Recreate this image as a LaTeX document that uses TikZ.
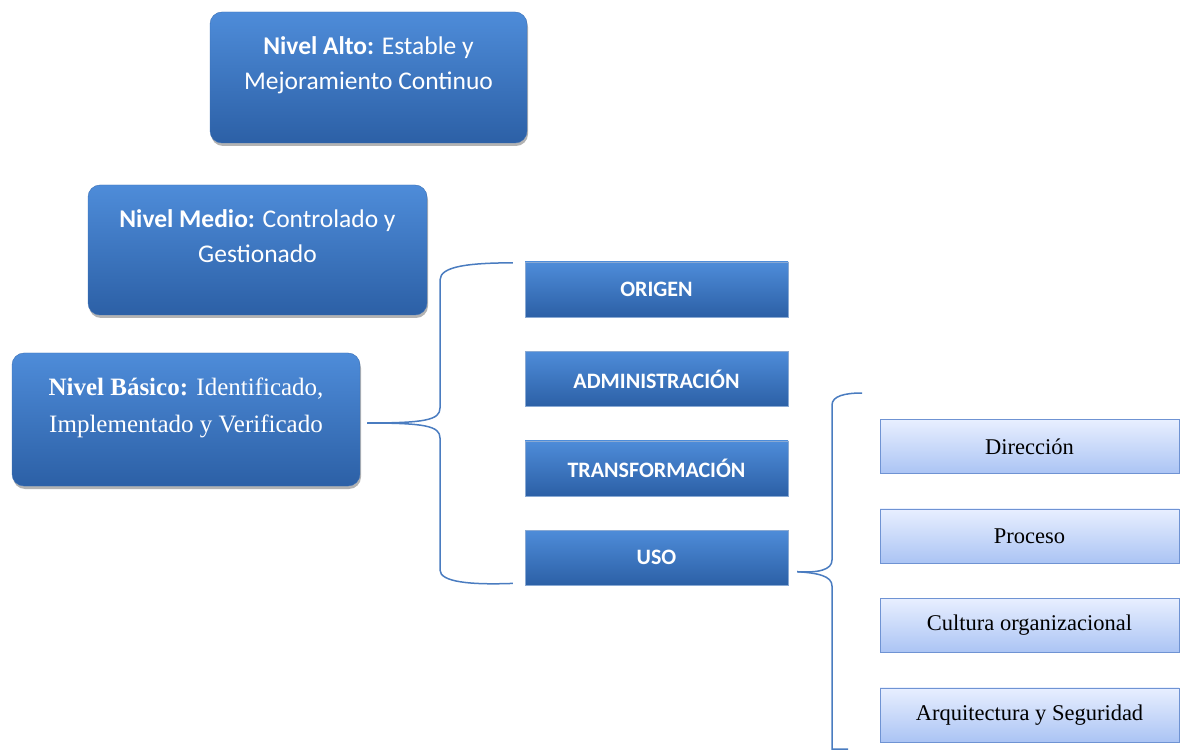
\documentclass[tikz,border=0pt]{standalone}
\usepackage{fontspec}
\setmainfont{Liberation Serif}
\newfontfamily\calibri{Carlito}
\usetikzlibrary{positioning,shadows,calc}

\definecolor{boxtop}{HTML}{4E8CD9}
\definecolor{boxbot}{HTML}{2C60A6}
\definecolor{boxline}{HTML}{3A6FB5}
\definecolor{subtop}{HTML}{E8EFFF}
\definecolor{subbot}{HTML}{ABC4F4}
\definecolor{subline}{HTML}{6F93D3}
\definecolor{braceline}{HTML}{4A7CC0}

\tikzset{
  nivel/.style={rounded corners=12pt, draw=boxline, top color=boxtop, bottom color=boxbot,
    text=white, align=center, drop shadow={shadow xshift=1pt, shadow yshift=-3pt, opacity=0.6},
    font=\calibri\fontsize{25.5}{35}\selectfont},
  fase/.style={draw=boxline!60!white, top color=boxtop, bottom color=boxbot, text=white,
    minimum width=263pt, minimum height=55pt, font=\calibri\bfseries\fontsize{22}{26}\selectfont},
  aspecto/.style={draw=subline, top color=subtop, bottom color=subbot, text=black,
    minimum width=299pt, minimum height=54pt, font=\fontsize{22.5}{26}\selectfont},
  llave/.style={draw=braceline, line width=1.5pt}
}

\begin{document}
\begin{tikzpicture}[x=1pt,y=-1pt]
  \useasboundingbox (0,0) rectangle (1181,751);

  % niveles
  \node[nivel, minimum width=317pt, minimum height=131pt] (alto) at (368.5,77.5)
    {\textbf{Nivel Alto:} Estable y\\Mejoramiento Continuo\\[-7pt]\mbox{}};
  \node[nivel, minimum width=339pt, minimum height=130pt] (medio) at (257.5,250)
    {\textbf{Nivel Medio:} Controlado y\\Gestionado\\[-7pt]\mbox{}};
  \node[nivel, minimum width=348pt, minimum height=133pt, font=\rmfamily\fontsize{25}{37}\selectfont] (basico) at (186,419.5)
    {\textbf{Nivel Básico:} Identificado,\\Implementado y Verificado\\[-9pt]\mbox{}};

  % fases
  \node[fase] (origen) at (656.5,289.5) {ORIGEN};
  \node[fase, below=34pt of origen] (admin) {ADMINISTRACIÓN};
  \node[fase, below=34pt of admin] (transf) {TRANSFORMACIÓN};
  \node[fase, below=34pt of transf] (uso) {USO};

  % aspectos
  \node[aspecto] (direccion) at (1029.5,446.5) {Dirección};
  \node[aspecto, below=35pt of direccion] (proceso) {Proceso};
  \node[aspecto, below=35pt of proceso] (cultura) {Cultura organizacional};
  \node[aspecto, below=35pt of cultura] (arqui) {Arquitectura y Seguridad};

  % llaves
  \coordinate (t1) at ($(basico.east)+(7,3.5)$);
  \draw[llave] (t1) .. controls (425,423) and (440,420) .. (440,408) -- (440,280)
    .. controls (440,266) and (470,263) .. ($(origen.north west)+(-12,1)$);
  \draw[llave] (t1) .. controls (425,423) and (440,426) .. (440,438) -- (440,570)
    .. controls (440,582) and (470,585) .. ($(uso.south west)+(-12,-2)$);

  \coordinate (t2) at ($(uso.east)+(9,14)$);
  \draw[llave] (t2) .. controls (818,573) and (832,570) .. (832,560) -- (832,405)
    .. controls (832,396) and (845,393) .. (862,393);
  \draw[llave] (t2) .. controls (818,573) and (832,576) .. (832,586) -- (832,749) -- (848,749);
\end{tikzpicture}
\end{document}
